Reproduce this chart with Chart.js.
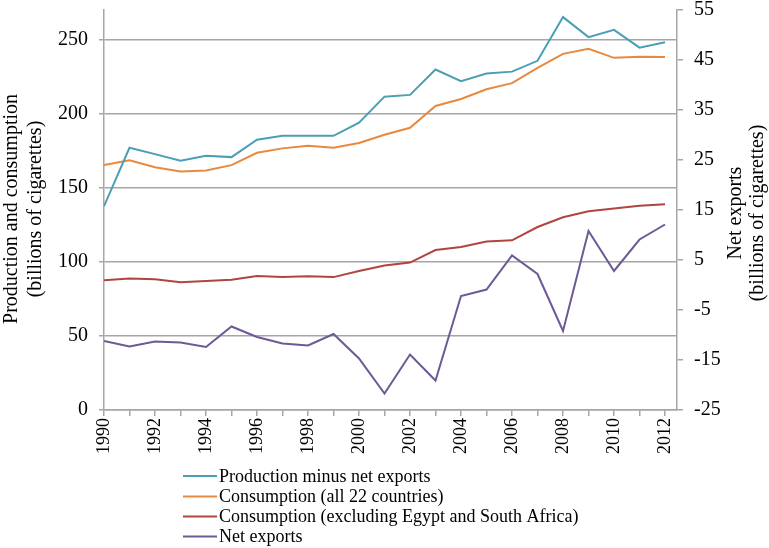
<!DOCTYPE html>
<html>
<head>
<meta charset="utf-8">
<script src="https://cdn.jsdelivr.net/npm/chart.js@4/dist/chart.umd.min.js"></script>
<style>
  html, body { margin: 0; padding: 0; background: #fff; }
  #wrap { position: relative; width: 769px; height: 548px; }
</style>
</head>
<body>
<div id="wrap"><canvas id="c" width="769" height="548"></canvas></div>
<script>
const years = [1990,1991,1992,1993,1994,1995,1996,1997,1998,1999,2000,2001,2002,2003,2004,2005,2006,2007,2008,2009,2010,2011,2012];
const productionMinusNetExports = [137.6,177,172.7,168.2,171.6,170.7,182.4,185.1,185.1,185.1,193.9,211.5,212.7,229.8,221.9,227.1,228.4,235.7,265.2,251.7,256.6,244.6,248.3];
const consumptionAll22 = [165.3,168.5,163.9,161,161.7,165.3,173.6,176.6,178.4,177,180.2,185.8,190.5,205.2,209.9,216.5,220.6,230.9,240.4,243.8,237.7,238.4,238.2];
const consumptionExclEgyptSA = [87.5,88.8,88.2,86.3,87,88,90.4,89.7,90.2,89.7,93.8,97.6,99.5,108,110,113.7,114.5,123.5,130.1,134.2,136,137.8,138.9];
const netExports = [-11.2,-12.3,-11.3,-11.5,-12.4,-8.3,-10.4,-11.7,-12.1,-9.8,-14.7,-21.7,-13.9,-19.1,-2.2,-0.9,5.9,2.2,-9.2,10.8,2.8,9.1,12.1];
const seriesNames = ["Production minus net exports","Consumption (all 22 countries)","Consumption (excluding Egypt and South Africa)","Net exports"];
const leftTitle = ["Production and consumption","(billions of cigarettes)"];
const rightTitle = ["Net exports","(billions of cigarettes)"];

const colors = ["#4A9FB4","#E8893D","#B0453F","#6D5994"];
const FONT = "'Liberation Serif', 'Times New Roman', serif";

function pts(vals){ return years.map((y,i)=>({x:y, y:vals[i]})); }

const extras = {
  id: 'extras',
  afterDraw(chart){
    const ctx = chart.ctx;
    ctx.save();
    ctx.fillStyle = '#000';
    ctx.font = "20px " + FONT;
    ctx.textAlign = 'center';
    ctx.textBaseline = 'middle';
    // left title
    ctx.save();
    ctx.translate(12, 209);
    ctx.rotate(-Math.PI/2);
    ctx.fillText(leftTitle[0], 0, 0);
    ctx.fillText(leftTitle[1], 0, 24);
    ctx.restore();
    // right title
    ctx.save();
    ctx.translate(736, 213);
    ctx.rotate(-Math.PI/2);
    ctx.fillText(rightTitle[0], 0, 0);
    ctx.fillText(rightTitle[1], 0, 22);
    ctx.restore();
    // legend
    ctx.font = "18px " + FONT;
    ctx.textAlign = 'left';
    const ys = [476, 496.5, 516.5, 536.5];
    seriesNames.forEach((n,i)=>{
      ctx.strokeStyle = colors[i];
      ctx.lineWidth = 2;
      ctx.beginPath();
      ctx.moveTo(183, ys[i]); ctx.lineTo(217, ys[i]);
      ctx.stroke();
      ctx.fillText(n, 219, ys[i] + 1);
    });
    ctx.restore();
  }
};

function noVPad(s){ s.paddingTop = 0; s.paddingBottom = 0; }

new Chart(document.getElementById('c'), {
  type: 'line',
  data: {
    datasets: [
      {label: seriesNames[0], data: pts(productionMinusNetExports), borderColor: colors[0], yAxisID: 'y'},
      {label: seriesNames[1], data: pts(consumptionAll22), borderColor: colors[1], yAxisID: 'y'},
      {label: seriesNames[2], data: pts(consumptionExclEgyptSA), borderColor: colors[2], yAxisID: 'y'},
      {label: seriesNames[3], data: pts(netExports), borderColor: colors[3], yAxisID: 'y2'}
    ].map(d => Object.assign(d, {borderWidth: 2, pointRadius: 0, fill: false, tension: 0}))
  },
  options: {
    responsive: false,
    animation: false,
    layout: { padding: { top: 10, bottom: 93, left: 0, right: 0 } },
    plugins: { legend: { display: false }, tooltip: { enabled: false } },
    scales: {
      x: {
        type: 'linear',
        min: 1990, max: 2012.47,
        afterFit(s){ s.height = 45; s.paddingLeft = 0; s.paddingRight = 0; },
        border: { color: '#A6A6A6', width: 1.5 },
        grid: { drawOnChartArea: false, drawTicks: true, tickLength: 6, color: '#A6A6A6', lineWidth: 1.5 },
        ticks: {
          stepSize: 1, includeBounds: false, autoSkip: false,
          minRotation: 90, maxRotation: 90, padding: 2,
          color: '#000', font: { family: FONT, size: 18 },
          callback: v => (v % 2 === 0 ? String(v) : '')
        }
      },
      y: {
        position: 'left',
        min: 0, max: 270,
        afterFit(s){ s.width = 104; noVPad(s); },
        border: { color: '#A6A6A6', width: 1.5 },
        grid: { color: '#A6A6A6', lineWidth: 1.5, tickLength: 5 },
        ticks: { stepSize: 50, includeBounds: false, padding: 11, color: '#000', font: { family: FONT, size: 20 } }
      },
      y2: {
        position: 'right',
        min: -25, max: 55,
        afterFit(s){ s.width = 92; noVPad(s); },
        border: { color: '#A6A6A6', width: 1.5 },
        grid: { drawOnChartArea: false, color: '#A6A6A6', lineWidth: 1.5, tickLength: 6 },
        ticks: { stepSize: 10, padding: 11, color: '#000', font: { family: FONT, size: 20 } }
      }
    }
  },
  plugins: [extras]
});
</script>
</body>
</html>
